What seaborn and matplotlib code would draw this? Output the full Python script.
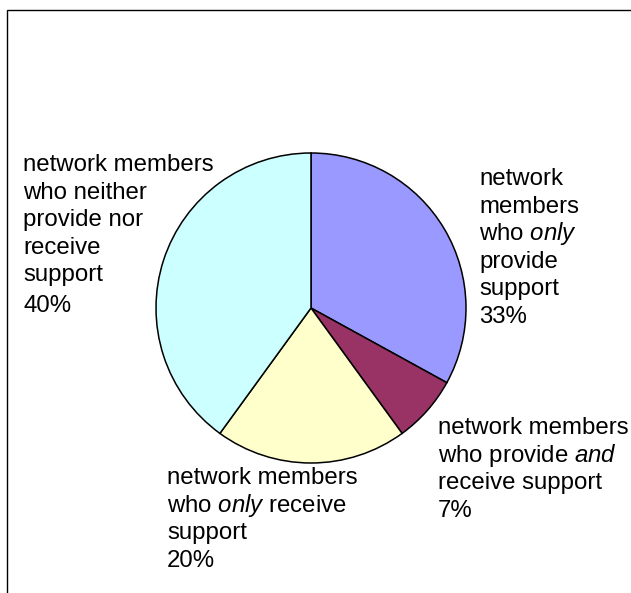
import matplotlib
matplotlib.use("Agg")
import matplotlib.pyplot as plt
from matplotlib.patches import Rectangle
import seaborn as sns

# ---- data ----
categories = [
    "network members who only provide support",
    "network members who provide and receive support",
    "network members who only receive support",
    "network members who neither provide nor receive support",
]
values = [33, 7, 20, 40]
label_lines = [
    ["network", "members", r"who $\mathit{only}$", "provide", "support"],
    ["network members", r"who provide $\mathit{and}$", "receive support"],
    ["network members", r"who $\mathit{only}$ receive", "support"],
    ["network members", "who neither", "provide nor", "receive", "support"],
]

# ---- style ----
sns.set_theme(style="white")
plt.rcParams["font.family"] = ["Liberation Sans", "DejaVu Sans"]
plt.rcParams["mathtext.fontset"] = "custom"
plt.rcParams["mathtext.rm"] = "Liberation Sans"
plt.rcParams["mathtext.it"] = "Liberation Sans:italic"
colors = ["#9999FF", "#993366", "#FFFFCC", "#CCFFFF"]

W, H = 631, 593
fig = plt.figure(figsize=(W / 100, H / 100), dpi=100)
fig.patch.set_facecolor("white")

# pie axes: centre (311, 308) px, radius 155 px
cx, cy, r = 311, 308, 155
ax = fig.add_axes([(cx - r) / W, 1 - (cy + r) / H, 2 * r / W, 2 * r / H])
ax.pie(values, colors=colors, startangle=90, counterclock=False,
       wedgeprops=dict(edgecolor="black", linewidth=1.1))
ax.set_xlim(-1, 1)
ax.set_ylim(-1, 1)
ax.set_aspect("equal")
ax.axis("off")

# outer border (clipped at right and bottom like the reference)
fig.patches.append(Rectangle((6.5 / W, -0.1), 1.2, 1 - 10.5 / H + 0.1,
                             transform=fig.transFigure, fill=False,
                             edgecolor="black", linewidth=1.0))

# label positions: left x, first baseline y, extra gap before percent (pixels)
label_pos = [(479, 185, 0), (438, 434, 0), (167, 484, 0), (23, 171, 3)]
step = 27.6
fs = 17.3
for lines, v, (lx, ly, gap) in zip(label_lines, values, label_pos):
    all_lines = lines + [f"{v}%"]
    for i, line in enumerate(all_lines):
        y = ly + i * step + (gap if i == len(all_lines) - 1 else 0)
        fig.text(lx / W, 1 - y / H, line, ha="left", va="baseline",
                 fontsize=fs, color="black")

fig.savefig("out.png", dpi=100)
